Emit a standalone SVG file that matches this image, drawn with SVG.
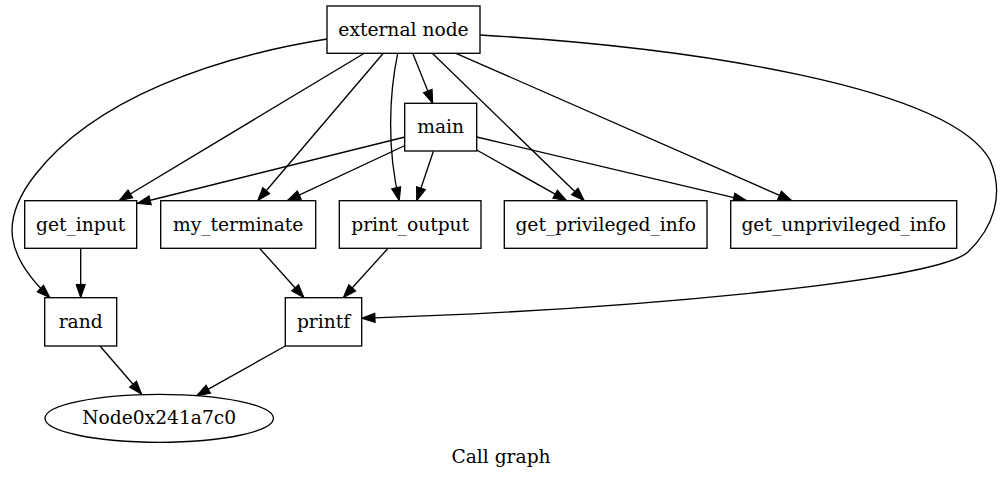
<svg xmlns="http://www.w3.org/2000/svg" width="1004" height="479" viewBox="0 0 1004 479">
<style>
.n{fill:#fff;stroke:#000;stroke-width:1.33}
.e{fill:none;stroke:#000;stroke-width:1.33;marker-end:url(#ah)}
text{font-family:"DejaVu Serif","Liberation Serif",serif;font-size:18.67px;fill:#000;text-anchor:middle}
</style>
<defs>
<marker id="ah" markerUnits="userSpaceOnUse" markerWidth="14" markerHeight="10" refX="13.3" refY="4.67" orient="auto" overflow="visible">
<path d="M0,0 L13.3,4.67 L0,9.33 Z" fill="#000" stroke="#000" stroke-width="1"/>
</marker>
</defs>
<rect width="1004" height="479" fill="#fff"/>
<g id="connectors">
<path class="e" d="M364.3,53.3 L119,200.7"/>
<path class="e" d="M383.3,53.3 L257.7,200.7"/>
<path class="e" d="M397.7,53.3 C389,95 387,150 399.3,200.7"/>
<path class="e" d="M412.7,53.3 L432.7,103.3"/>
<path class="e" d="M432.3,53.3 L584.3,200.7"/>
<path class="e" d="M456,53.3 L791.7,200.7"/>
<path class="e" d="M327,39 C215,57 95,98 35,175 C0,220 5,255 50,297.7"/>
<path class="e" d="M480,35 C700,48 950,88 990,160 C1005,195 993,228 968,252 C935,282 620,310 361.7,318.3"/>
<path class="e" d="M405,137 L137.3,203.5"/>
<path class="e" d="M405,145.5 L287.3,200.7"/>
<path class="e" d="M433.3,151.5 L416.7,200.7"/>
<path class="e" d="M476.7,150 L566.7,200.7"/>
<path class="e" d="M476.7,137 L746.7,200.7"/>
<path class="e" d="M80.7,248 L80.7,297.7"/>
<path class="e" d="M259.3,248 L304,297.7"/>
<path class="e" d="M388.3,248 L343.3,297.7"/>
<path class="e" d="M100,346 L141.7,394.3"/>
<path class="e" d="M285.3,346 L196.7,395.7"/>
</g>
<g id="external_node"><rect class="n" x="327" y="6" width="153" height="47.3"/><text x="403.5" y="35.5">external node</text></g>
<g id="main"><rect class="n" x="404.7" y="103.3" width="72" height="47.7"/><text x="440.7" y="133">main</text></g>
<g id="get_input"><rect class="n" x="24.7" y="200.7" width="112" height="47.6"/><text x="80.7" y="230.7">get_input</text></g>
<g id="my_terminate"><rect class="n" x="160.7" y="200.7" width="155" height="47.6"/><text x="238.2" y="230.7">my_terminate</text></g>
<g id="print_output"><rect class="n" x="339.3" y="200.7" width="141.7" height="47.6"/><text x="410.2" y="230.7">print_output</text></g>
<g id="get_privileged_info"><rect class="n" x="504.3" y="200.7" width="202.7" height="47.6"/><text x="605.7" y="230.7">get_privileged_info</text></g>
<g id="get_unprivileged_info"><rect class="n" x="730.7" y="200.7" width="226" height="47.6"/><text x="843.7" y="230.7">get_unprivileged_info</text></g>
<g id="rand"><rect class="n" x="44.7" y="297.7" width="72" height="48.3"/><text x="80.7" y="328">rand</text></g>
<g id="printf"><rect class="n" x="285.3" y="297.7" width="76.4" height="48.3"/><text x="323.5" y="328">printf</text></g>
<g id="Node0x241a7c0"><ellipse class="n" cx="159.2" cy="418.3" rx="114.2" ry="24"/><text x="159.2" y="424.3">Node0x241a7c0</text></g>
<text x="501" y="462.5">Call graph</text>
</svg>
